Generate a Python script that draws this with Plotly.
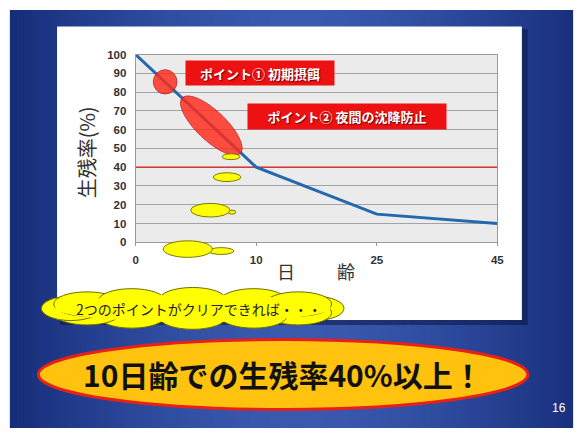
import numpy as np
import plotly.graph_objects as go

W, H = 579, 434

# ---- data ----
tick_days = [0, 10, 25, 45]
tick_labels = ["0", "10", "25", "45"]
days = [0, 8.3, 10, 25, 45]
survival = [100, 50, 40, 15, 10]
threshold = 40
y_ticks = list(range(0, 101, 10))

# category-like axis: ticks equally spaced
pos = np.interp(days, tick_days, np.arange(len(tick_days)))

JP = "Noto Sans CJK JP"

def X(px):
    return px / W

def Y(py):
    return 1 - py / H

shapes = []

# background gradient (slide)
n = 80
x0s = np.linspace(7, W, n + 1)
c_edge = np.array([22, 44, 120])
c_mid = np.array([58, 90, 176])
for i in range(n):
    xm = (x0s[i] + x0s[i + 1]) / 2
    t = abs(xm - 300) / 295
    c = c_mid + (c_edge - c_mid) * min(1, t) ** 1.6
    shapes.append(dict(type="rect", xref="paper", yref="paper", layer="below",
                       x0=X(x0s[i]), x1=X(x0s[i + 1]) + 0.002, y0=Y(H), y1=Y(4),
                       line=dict(width=0),
                       fillcolor="rgb(%d,%d,%d)" % tuple(c.astype(int))))

# panel shadow + white panel
shapes.append(dict(type="rect", xref="paper", yref="paper", layer="below",
                   x0=X(58), x1=X(534), y0=Y(328), y1=Y(24), line=dict(width=0),
                   fillcolor="rgba(10,22,70,0.55)"))
shapes.append(dict(type="rect", xref="paper", yref="paper", layer="below",
                   x0=X(55), x1=X(528), y0=Y(323), y1=Y(21), line=dict(width=0),
                   fillcolor="white"))
# plot area background
shapes.append(dict(type="rect", xref="x domain", yref="y domain", layer="below",
                   x0=0, x1=1, y0=0, y1=1, line=dict(width=0),
                   fillcolor="#ebebeb"))


def ellipse(cx, cy, rx, ry, fill, line_color, lw=1, opacity=1.0):
    return dict(type="circle", xref="paper", yref="paper", layer="above",
                x0=X(cx - rx), x1=X(cx + rx), y0=Y(cy + ry), y1=Y(cy - ry),
                fillcolor=fill, line=dict(color=line_color, width=lw), opacity=opacity)


def poly_path(pts):
    s = "M " + " L ".join("%.5f,%.5f" % (X(a), Y(b)) for a, b in pts) + " Z"
    return s


# red markers
shapes.append(ellipse(165, 78, 12, 12.5, "#ff2a1a", "#c01010", 1, 0.82))
t = np.linspace(0, 2 * np.pi, 80)
ang = np.deg2rad(44)
cx, cy, a, b = 212, 123, 41, 15
pts = [(cx + a * np.cos(tt) * np.cos(ang) - b * np.sin(tt) * np.sin(ang),
        cy + a * np.cos(tt) * np.sin(ang) + b * np.sin(tt) * np.cos(ang)) for tt in t]
shapes.append(dict(type="path", xref="paper", yref="paper", layer="above",
                   path=poly_path(pts), fillcolor="#ff2a1a",
                   line=dict(color="#c01010", width=1), opacity=0.82))

# yellow larvae
YL, OL = "#ffff00", "#7a7a00"
shapes.append(ellipse(232, 155, 9, 3, YL, OL))
shapes.append(ellipse(228, 176, 14, 4.5, YL, OL))
shapes.append(ellipse(233, 212, 4, 2, YL, OL))
shapes.append(ellipse(211, 210, 20, 7, YL, OL))
shapes.append(ellipse(222, 252, 13, 3.5, YL, OL))
shapes.append(ellipse(188, 250, 25, 8.5, YL, OL))

# cloud: outlined lobes + borderless core
ccx, ccy = 193, 311
for k in range(12):
    th = 2 * np.pi * k / 12
    lx = ccx + 124 * np.cos(th)
    ly = ccy + 9 * np.sin(th)
    rx_l = 30 if k in (0, 6) else 34
    shapes.append(ellipse(lx, ly, rx_l, 12.5, YL, "#6e6e00"))
shapes.append(ellipse(ccx, ccy, 140, 14, YL, YL, 0))

# big ellipse
shapes.append(ellipse(285, 379, 249, 36, "#ffc20e", "#e8201a", 3))

fig = go.Figure()
fig.add_trace(go.Scatter(x=[0, len(tick_days) - 1], y=[threshold, threshold],
                         mode="lines", line=dict(color="#e01818", width=1.2),
                         hoverinfo="skip", showlegend=False))
fig.add_trace(go.Scatter(x=pos, y=survival, mode="lines",
                         line=dict(color="#2468b0", width=3), showlegend=False))

tickfont = dict(family="Liberation Sans", size=11.5, color="#333333", weight="bold")
fig.update_layout(
    width=W, height=H, autosize=False,
    margin=dict(l=0, r=0, t=0, b=0),
    paper_bgcolor="white", plot_bgcolor="rgba(0,0,0,0)",
    shapes=shapes,
    xaxis=dict(domain=[X(135), X(503)], range=[0, len(tick_days) - 1],
               tickvals=list(range(len(tick_days))), ticktext=tick_labels,
               showgrid=False, zeroline=False, showline=True, linecolor="#999999",
               mirror=True, ticks="outside", ticklen=3, tickcolor="#999999",
               tickfont=tickfont, ticklabelstandoff=4),
    yaxis=dict(domain=[Y(243), Y(50)], range=[0, 100], tickvals=y_ticks,
               showgrid=True, gridcolor="#a3a3a3", gridwidth=1, zeroline=False,
               showline=True, linecolor="#999999", mirror=True, ticks="",
               tickfont=tickfont, ticklabelstandoff=6),
    font=dict(family=JP),
)


def note(text, px, py, font, **kw):
    d = dict(text=text, x=X(px), y=Y(py), xref="paper", yref="paper",
             xanchor="center", yanchor="middle", showarrow=False, font=font)
    d.update(kw)
    return d


ann = []
ann.append(note("生残率(%)", 85, 151, dict(family=JP, size=20, color="#333333"),
                textangle=-90))
ann.append(note("日", 288, 273, dict(family=JP, size=18, color="#333333")))
ann.append(note("齢", 349, 273, dict(family=JP, size=18, color="#333333")))
boxfont = dict(family=JP, size=13, color="white", weight="bold", shadow="1px 1px 1px #700000")
ann.append(note("ポイント① 初期摂餌", 262, 69, boxfont,
                bgcolor="#ee1111", width=146, height=22))
ann.append(note("ポイント② 夜間の沈降防止", 350, 113.5, boxfont,
                bgcolor="#ee1111", width=196, height=23))
ann.append(note("2つのポイントがクリアできれば・・・", 199, 312,
                dict(family=JP, size=14, color="#222222")))
ann.append(note("10日齢での生残率40%以上！", 285, 378,
                dict(family=JP, size=30, color="#111111", weight="bold")))
ann.append(note("16", 566, 413, dict(family="Liberation Sans", size=12, color="white")))
fig.update_layout(annotations=ann)

fig.write_html("out.html")
